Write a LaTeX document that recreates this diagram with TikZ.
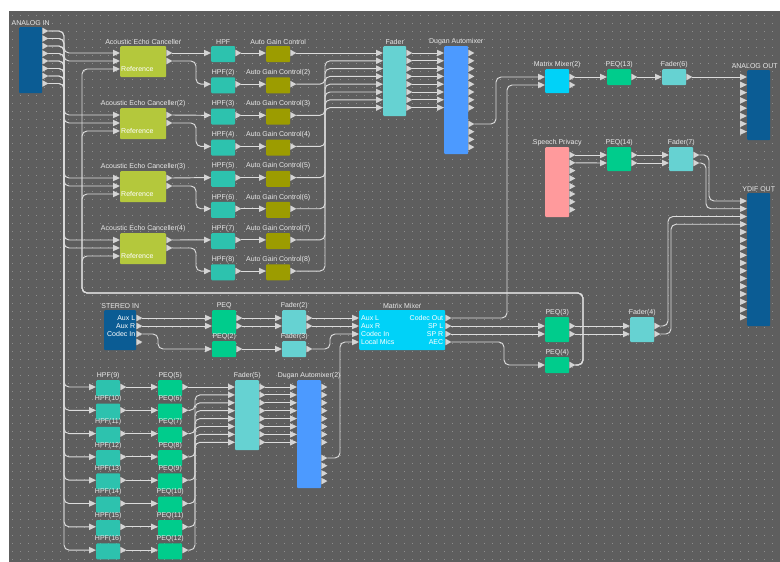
\documentclass[tikz,border=0pt]{standalone}
\usepackage{fontspec}
\setmainfont{Liberation Sans}
\usetikzlibrary{positioning,calc}

\definecolor{canvas}{HTML}{5E5E5E}
\definecolor{dotc}{HTML}{8E8E8E}
\definecolor{wirec}{HTML}{DCDCDC}
\definecolor{portc}{HTML}{D4D4D4}
\definecolor{lblc}{HTML}{E8E8E8}
\definecolor{ioblue}{HTML}{0B5C94}
\definecolor{aecc}{HTML}{B4C83C}
\definecolor{hpfc}{HTML}{2DC2AE}
\definecolor{agcc}{HTML}{9C9C00}
\definecolor{faderc}{HTML}{66D2D2}
\definecolor{duganc}{HTML}{4C9AFF}
\definecolor{mixc}{HTML}{00D2F8}
\definecolor{peqc}{HTML}{00CC8C}
\definecolor{privc}{HTML}{FF9A9C}

% port triangles: left of a block (inputs), right of a block (outputs)
\newcommand\inports[2]{%
  \foreach \dy [count=\pn] in {#2}{%
    \coordinate (#1-i\pn) at ($(#1.north west)+(-7,\dy)$);
    \fill[portc] (#1-i\pn) ++(0,-3.3) -- ++(7,3.3) -- ++(-7,3.3) -- cycle;}}
\newcommand\outports[2]{%
  \foreach \dy [count=\pn] in {#2}{%
    \coordinate (#1-o\pn) at ($(#1.north east)+(6,\dy)$);
    \fill[portc] (#1-o\pn) ++(-6,-3.3) -- ++(6,3.3) -- ++(-6,3.3) -- cycle;}}

\begin{document}
\begin{tikzpicture}[x=1pt,y=-1pt,
    blk/.style={rectangle,rounded corners=1pt,anchor=north west,inner sep=0pt,minimum width=24pt},
    lbl/.style={font=\fontsize{7}{8}\selectfont,text=lblc,inner sep=1pt},
    intxt/.style={font=\fontsize{7}{8}\selectfont,text=white,inner sep=0pt},
    every label/.style={lbl},label distance=0pt,
    wire/.style={draw=wirec,line width=0.95pt,rounded corners=5pt}]
  \useasboundingbox (0,0) rectangle (780,562);
  \fill[white] (0,0) rectangle (780,562);
  \fill[canvas] (9,11) rectangle (780,562);
  \foreach \yy in {15,23,...,559}
    \draw[dotc,line width=1pt,dash pattern=on 1pt off 7pt] (12,\yy) -- (780,\yy);

  % inputs and the four echo cancellers
  \node[blk,fill=ioblue,minimum width=23pt,minimum height=66pt,label=above:ANALOG IN] (ain) at (19,27) {};
  \outports{ain}{4,11.5,19,26.5,34,41.5,49,56.5}
  \foreach \k/\yy in {1/46,2/108,3/171,4/233}{
    \node[blk,fill=aecc,minimum width=46pt,minimum height=31pt,label=above:{Acoustic Echo Canceller\ifnum\k>1(\k)\fi}] (aec\k) at (120,\yy) {};
    \node[intxt,anchor=west] (aec\k-txt) at ($(aec\k.north west)+(1,23)$) {Reference};
    \inports{aec\k}{7,15,23}
    \outports{aec\k}{7,15}
  }
  \foreach \k in {1,...,8}{
    \pgfmathsetmacro\yy{46+31.15*(\k-1)}
    \node[blk,fill=hpfc,minimum height=16pt,label=above:{HPF\ifnum\k>1(\k)\fi}] (hpf\k) at (211,\yy) {};
    \node[blk,fill=agcc,minimum height=16pt,label=above:{Auto Gain Control\ifnum\k>1(\k)\fi}] (agc\k) at (266,\yy) {};
    \inports{hpf\k}{7} \outports{hpf\k}{7}
    \inports{agc\k}{7} \outports{agc\k}{7}
  }
  \node[blk,fill=faderc,minimum width=23pt,minimum height=70pt,label=above:Fader] (fad1) at (383,46) {};
  \inports{fad1}{7,14.8,22.6,30.4,38.2,46,53.8,61.6}
  \outports{fad1}{7,14.8,22.6,30.4,38.2,46,53.8,61.6}
  \node[blk,fill=duganc,minimum height=108pt,label=above:Dugan Automixer] (dug1) at (444,46) {};
  \inports{dug1}{7,14.8,22.6,30.4,38.2,46,53.8,61.6}
  \outports{dug1}{7,14.8,22.6,30.4,38.2,46,53.8,61.6,78,85.7,93.4,101.1}

  % outputs
  \node[blk,fill=mixc,minimum height=24pt,label=above:Matrix Mixer(2)] (mm2) at (545,69) {};
  \inports{mm2}{8,16} \outports{mm2}{8,16}
  \node[blk,fill=peqc,minimum height=16pt,label=above:PEQ(13)] (peq13) at (607,69) {};
  \inports{peq13}{8} \outports{peq13}{8}
  \node[blk,fill=faderc,minimum height=16pt,label=above:Fader(6)] (fad6) at (662,69) {};
  \inports{fad6}{8} \outports{fad6}{8}
  \node[blk,fill=ioblue,minimum width=23pt,minimum height=70pt,label={[xshift=-4pt]above:ANALOG OUT}] (aout) at (747,70) {};
  \inports{aout}{7,14.8,22.6,30.4,38.2,46,53.8,61.6}
  \node[blk,fill=privc,minimum height=70pt,label=above:Speech Privacy] (sp) at (545,147) {};
  \outports{sp}{8,15.8,23.6,31.4,39.2,47,54.8,62.6}
  \node[blk,fill=peqc,minimum height=24pt,label=above:PEQ(14)] (peq14) at (607,147) {};
  \inports{peq14}{8,16} \outports{peq14}{8,16}
  \node[blk,fill=faderc,minimum height=24pt,label=above:Fader(7)] (fad7) at (669,147) {};
  \inports{fad7}{8,16} \outports{fad7}{8,16}
  \node[blk,fill=ioblue,minimum width=23pt,minimum height=133pt,label=above:YDIF OUT] (ydif) at (747,193) {};
  \inports{ydif}{8,15.75,23.5,31.25,39,46.75,54.5,62.25,70,77.75,85.5,93.25,101,108.75,116.5,124.25}

  % stereo in and matrix mixer
  \node[blk,fill=ioblue,minimum width=32pt,minimum height=40pt,label=above:STEREO IN] (sin) at (104,310) {};
  \outports{sin}{8,16,24,32}
  \node[intxt,anchor=east] (sin-t1) at ($(sin.north east)+(-1,8)$) {Aux L};
  \node[intxt,anchor=east] (sin-t2) at ($(sin.north east)+(-1,16)$) {Aux R};
  \node[intxt,anchor=east] (sin-t3) at ($(sin.north east)+(-1,24)$) {Codec In};
  \node[blk,fill=peqc,minimum height=24pt,label=above:PEQ] (peq1) at (212,310) {};
  \inports{peq1}{8,16} \outports{peq1}{8,16}
  \node[blk,fill=peqc,minimum height=16pt,label=above:PEQ(2)] (peq2) at (212,341) {};
  \inports{peq2}{8} \outports{peq2}{8}
  \node[blk,fill=faderc,minimum height=24pt,label=above:Fader(2)] (fad2) at (282,310) {};
  \inports{fad2}{8,16} \outports{fad2}{8,16}
  \node[blk,fill=faderc,minimum height=16pt,label=above:Fader(3)] (fad3) at (282,341) {};
  \inports{fad3}{8} \outports{fad3}{8}
  \node[blk,fill=mixc,minimum width=86pt,minimum height=40pt,label=above:Matrix Mixer] (mm1) at (359,310) {};
  \inports{mm1}{8,16,24,32} \outports{mm1}{8,16,24,32}
  \foreach \t [count=\k] in {Aux L,Aux R,Codec In,Local Mics}
    \node[intxt,anchor=west] (mm1-l\k) at ($(mm1.north west)+(2,8*\k)$) {\t};
  \foreach \t [count=\k] in {Codec Out,SP L,SP R,AEC}
    \node[intxt,anchor=east] (mm1-r\k) at ($(mm1.north east)+(-2,8*\k)$) {\t};
  \node[blk,fill=peqc,minimum height=25pt,label=above:PEQ(3)] (peq3) at (545,317) {};
  \inports{peq3}{9,17} \outports{peq3}{9,17}
  \node[blk,fill=peqc,minimum height=16pt,label=above:PEQ(4)] (peq4) at (545,357) {};
  \inports{peq4}{8} \outports{peq4}{8}
  \node[blk,fill=faderc,minimum height=25pt,label=above:Fader(4)] (fad4) at (630,317) {};
  \inports{fad4}{9,17} \outports{fad4}{9,17}

  % lower mic chain
  \foreach \j in {1,...,8}{
    \pgfmathsetmacro\yy{380+23.3*(\j-1)}
    \pgfmathtruncatemacro\hn{8+\j}
    \pgfmathtruncatemacro\pq{4+\j}
    \node[blk,fill=hpfc,minimum height=16pt,label=above:HPF(\hn)] (hpf\hn) at (96,\yy) {};
    \node[blk,fill=peqc,minimum height=16pt,label=above:PEQ(\pq)] (peq\pq) at (158,\yy) {};
    \inports{hpf\hn}{7} \outports{hpf\hn}{7}
    \inports{peq\pq}{7} \outports{peq\pq}{7}
  }
  \node[blk,fill=faderc,minimum height=70pt,label=above:Fader(5)] (fad5) at (235,380) {};
  \inports{fad5}{7,14.9,22.8,30.7,38.6,46.5,54.4,62.3}
  \outports{fad5}{7,14.9,22.8,30.7,38.6,46.5,54.4,62.3}
  \node[blk,fill=duganc,minimum height=108pt,label=above:Dugan Automixer(2)] (dug2) at (297,380) {};
  \inports{dug2}{7,14.9,22.8,30.7,38.6,46.5,54.4,62.3}
  \outports{dug2}{7,14.9,22.8,30.7,38.6,46.5,54.4,62.3,78,85.7,93.4,101.1}

  % wiring
  \coordinate (bus) at (64,0);
  \coordinate (hbus) at (196,0);
  \coordinate (fbus) at (195,0);
  \coordinate (abus) at (325,0);
  \coordinate (dbus) at (496,0);
  \coordinate (cbus) at (507,0);
  \coordinate (ebus) at (504,0);
  \coordinate (refr) at (583,293);
  \coordinate (refl) at (82,293);
  \foreach \k in {1,...,8}{
    \pgfmathtruncatemacro\hn{8+\k}
    \draw[wire] (ain-o\k) -| (bus |- hpf\hn-i1) -- (hpf\hn-i1);
  }
  \foreach \k/\a/\b in {1/1/2,2/3/4,3/5/6,4/7/8}{
    \draw[wire] (ain-o\a) -| (bus |- aec\k-i1) -- (aec\k-i1);
    \draw[wire] (ain-o\b) -| (bus |- aec\k-i2) -- (aec\k-i2);
    \draw[wire] (peq4-o1) -| (refr) -| (refl |- aec\k-i3) -- (aec\k-i3);
    \draw[wire] (aec\k-o1) -- (hpf\a-i1);
    \draw[wire] (aec\k-o2) -| (hbus |- hpf\b-i1) -- (hpf\b-i1);
  }
  \foreach \k in {1,...,8}{
    \draw[wire] (hpf\k-o1) -- (agc\k-i1);
    \draw[wire] (fad1-o\k) -- (dug1-i\k);
  }
  \draw[wire] (agc1-o1) -- (fad1-i1);
  \foreach \k in {2,...,8}
    \draw[wire] (agc\k-o1) -| (abus |- fad1-i\k) -- (fad1-i\k);
  \draw[wire] (dug1-o9) -| (dbus |- mm2-i1) -- (mm2-i1);
  \draw[wire] (mm1-o1) -| (cbus |- mm2-i2) -- (mm2-i2);
  \path[wire]
    (mm2-o1) edge (peq13-i1)
    (peq13-o1) edge (fad6-i1)
    (fad6-o1) edge (aout-i1)
    (sp-o1) edge (peq14-i1)
    (sp-o2) edge (peq14-i2)
    (peq14-o1) edge (fad7-i1)
    (peq14-o2) edge (fad7-i2)
    (sin-o1) edge (peq1-i1)
    (sin-o2) edge (peq1-i2)
    (peq1-o1) edge (fad2-i1)
    (peq1-o2) edge (fad2-i2)
    (peq2-o1) edge (fad3-i1)
    (fad2-o1) edge (mm1-i1)
    (fad2-o2) edge (mm1-i2)
    (mm1-o2) edge (peq3-i1)
    (mm1-o3) edge (peq3-i2)
    (peq3-o1) edge (fad4-i1)
    (peq3-o2) edge (fad4-i2)
    (peq5-o1) edge (fad5-i1);
  \draw[wire] (fad7-o1) -| ($(ydif-i1)+(-31,0)$) -- (ydif-i1);
  \draw[wire] (fad7-o2) -| ($(ydif-i2)+(-34,0)$) -- (ydif-i2);
  \draw[wire] (fad4-o1) -| ($(ydif-i3)+(-72,0)$) -- (ydif-i3);
  \draw[wire] (fad4-o2) -| ($(ydif-i4)+(-69,0)$) -- (ydif-i4);
  \draw[wire] (sin-o3) -| ($(peq2-i1)+(-47,0)$) -- (peq2-i1);
  \draw[wire] (fad3-o1) -| ($(mm1-i3)+(-22,0)$) -- (mm1-i3);
  \draw[wire] (dug2-o9) -| ($(mm1-i4)+(-12,0)$) -- (mm1-i4);
  \draw[wire] (mm1-o4) -| (ebus |- peq4-i1) -- (peq4-i1);
  \foreach \j in {1,...,8}{
    \pgfmathtruncatemacro\hn{8+\j}
    \pgfmathtruncatemacro\pq{4+\j}
    \draw[wire] (hpf\hn-o1) -- (peq\pq-i1);
    \draw[wire] (fad5-o\j) -- (dug2-i\j);
  }
  \foreach \j in {2,...,8}{
    \pgfmathtruncatemacro\pq{4+\j}
    \draw[wire] (peq\pq-o1) -| (fbus |- fad5-i\j) -- (fad5-i\j);
  }
\end{tikzpicture}
\end{document}
